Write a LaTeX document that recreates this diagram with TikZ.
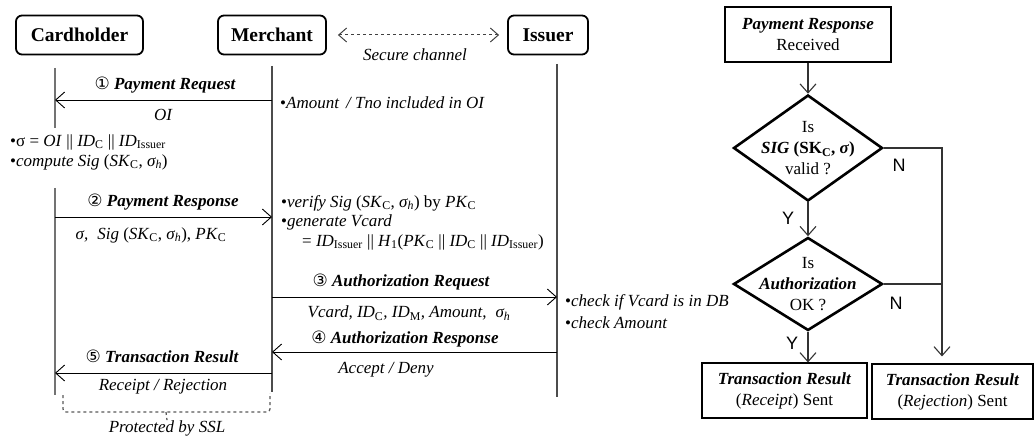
\documentclass[tikz,border=0pt]{standalone}
\usepackage{fontspec}
\setmainfont{Liberation Serif}
\newfontfamily\yesnofont{Liberation Sans}
\newfontfamily\numfont{DejaVu Sans}
\usetikzlibrary{arrows.meta,positioning,shapes.geometric}
\newcommand{\lo}[1]{\textsubscript{#1}}
\newcommand{\stepno}[1]{{\numfont\mdseries\upshape #1}}

\begin{document}
\begin{tikzpicture}[
  x=1pt,y=-1pt,
  font=\fontsize{17}{20}\selectfont,
  actor/.style={draw,line width=1.8pt,rounded corners=6pt,minimum height=39pt,inner xsep=4pt,font=\fontsize{19.5}{22}\selectfont\bfseries},
  life/.style={line width=1.3pt,black!70},
  msg/.style={line width=0.9pt,-{Straight Barb[length=9pt,width=16pt]}},
  msglbl/.style={font=\fontsize{17}{20}\selectfont\bfseries\itshape,inner sep=0pt},
  txt/.style={font=\fontsize{17}{20}\selectfont\itshape,inner sep=0pt},
  note/.style={align=left,anchor=west,inner sep=0pt},
  chan/.style={dashed,black!75,line width=1pt,{Straight Barb[length=8pt,width=14pt]}-{Straight Barb[length=8pt,width=14pt]}},
  dashbrace/.style={dashed,black!65,line width=1.3pt},
  fbox/.style={draw,line width=1.1pt,minimum height=55pt,align=center,inner sep=2pt,font=\fontsize{17}{21}\selectfont},
  dec/.style={diamond,draw,line width=2.6pt,minimum width=149pt,inner sep=0pt},
  flow/.style={line width=1.1pt,black!80,-{Straight Barb[length=9pt,width=16pt]}},
  yn/.style={font=\fontsize{18}{20}\selectfont\yesnofont,inner sep=0pt}
]
\useasboundingbox (0,0) rectangle (1034,441);

% ---- parties and lifelines ----
\node[actor,minimum width=127pt] (card)  at (79.5,35) {Cardholder};
\node[actor,minimum width=108pt] (merch) at (272,35)  {Merchant};
\node[actor,minimum width=80pt]  (iss)   at (548,35)  {Issuer};
\draw[chan] ([xshift=11pt]merch.east) -- ([xshift=-8pt]iss.west);
\node[txt] (chanlbl) at (415,55) {Secure channel};

\draw[life,line width=2.2pt,black!55] (55,68) -- (55,128);
\draw[life,line width=2.2pt,black!55] (55,188) -- (55,395);
\draw[life] (272,66) -- (272,392);
\draw[life] (557,64) -- (557,397);

% ---- message 1 ----
\coordinate (m1) at (272,100);
\coordinate (c1) at (55,100);
\draw[msg] (m1) -- (c1);
\node[msglbl] (lab1) at (165,85) {\stepno{①} Payment Request};
\node[txt] (dat1) at (163,115) {OI};
\node[note] (nt1) at (280,103) {•\textit{Amount\, / Tno included in OI}};
\node[note,text height=12pt] (nt2) at (10,162) {\setlength{\baselineskip}{20pt}%
  •σ = \textit{OI} || \textit{ID}\lo{C} || \textit{ID}\lo{Issuer}\\
  •\textit{compute Sig} (\textit{SK}\lo{C}, \textit{σ\lo{h}})};

% ---- message 2 ----
\coordinate (c2) at (55,217);
\coordinate (m2) at (272,217);
\draw[msg] (c2) -- (m2);
\node[msglbl] (lab2) at (163,202) {\stepno{②} Payment Response};
\node[inner sep=0pt] (dat2) at (151,235) {\textit{σ,\; Sig} (\textit{SK}\lo{C}, \textit{σ\lo{h}}), \textit{PK}\lo{C}};
\node[note] (nt3) at (281,203) {•\textit{verify Sig} (\textit{SK}\lo{C}, \textit{σ\lo{h}}) by \textit{PK}\lo{C}};
\node[note] (nt4) at (281,222) {•\textit{generate Vcard}};
\node[note] (nt5) at (302,242) {= \textit{ID}\lo{Issuer} || \textit{H}\lo{1}(\textit{PK}\lo{C} || \textit{ID}\lo{C} || \textit{ID}\lo{Issuer})};

% ---- message 3 ----
\coordinate (m3) at (272,297);
\coordinate (i3) at (557,297);
\draw[msg] (m3) -- (i3);
\node[msglbl] (lab3) at (401,282) {\stepno{③} Authorization Request};
\node[txt] (dat3) at (409,313) {Vcard, ID\lo{\upshape C}, ID\lo{\upshape M}, Amount,\; σ\lo{h}};
\node[note] (nt6) at (565,302) {•\textit{check if Vcard is in DB}};
\node[note] (nt7) at (565,323) {•\textit{check Amount}};

% ---- message 4 ----
\coordinate (i4) at (557,352);
\coordinate (m4) at (272,352);
\draw[msg] (i4) -- (m4);
\node[msglbl] (lab4) at (405,339) {\stepno{④} Authorization Response};
\node[txt] (dat4) at (386,370) {Accept / Deny};

% ---- message 5 ----
\coordinate (m5) at (272,373);
\coordinate (c5) at (55,373);
\draw[msg] (m5) -- (c5);
\node[msglbl] (lab5) at (162,356) {\stepno{⑤} Transaction Result};
\node[txt] (dat5) at (163,387) {Receipt / Rejection};

% SSL bracket under the cardholder/merchant exchange
\node[txt] (sslnote) at (167,428) {Protected by SSL};
\draw[dashbrace,rounded corners=3pt] (63,395) |- (270,412) -- (270,393);
\draw[dashbrace] (166,412) -- (sslnote.north);

% ---- flowchart (right) ----
\node[fbox,minimum width=166pt] (prcv) at (808,34.5) {\textbf{\textit{Payment Response}}\\Received};
\node[dec,minimum height=106pt] (d1) at (808,148) {};
\node[align=center,inner sep=0pt,font=\fontsize{17}{21}\selectfont] (d1txt) at (d1.center) {Is\\\textbf{\textit{SIG} (SK\lo{C}, \textit{σ})}\\valid ?};
\node[dec,minimum height=93pt] (d2) at (808,284) {};
\node[align=center,inner sep=0pt,font=\fontsize{17}{21}\selectfont] (d2txt) at (d2.center) {Is\\\textbf{\textit{Authorization}}\\OK ?};
\node[fbox,minimum width=165pt] (okres) at (784.5,390.5) {\textbf{\textit{Transaction Result}}\\(\textit{Receipt}) Sent};
\node[fbox,minimum width=161pt] (nores) at (952.5,391.5) {\textbf{\textit{Transaction Result}}\\(\textit{Rejection}) Sent};

\coordinate (nj) at (942,148);
\draw[flow] (prcv) -- (d1);
\draw[flow] (d1) -- (d2);
\draw[flow] (d2.south) -- (d2.south |- okres.north);
\draw[flow] (d1.east) -- (nj) -- ([yshift=7pt]nj |- nores.north);
\draw[line width=1.1pt,black!80] (d2.east) -- (d2.east -| nj);

\node[yn] (n1) at (899,165) {N};
\node[yn] (y1) at (788,218) {Y};
\node[yn] (n2) at (896,303) {N};
\node[yn] (y2) at (792,343) {Y};
\end{tikzpicture}
\end{document}
